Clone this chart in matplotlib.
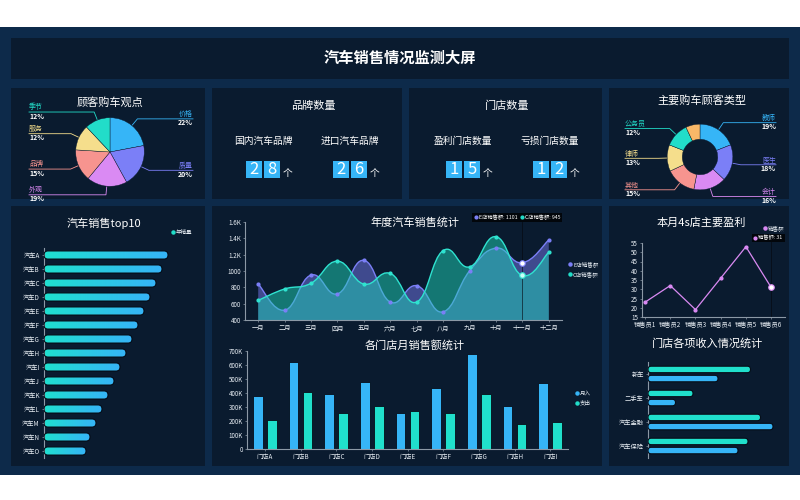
import numpy as np
import matplotlib
matplotlib.use("Agg")
import matplotlib.pyplot as plt
from matplotlib.patches import Rectangle, FancyBboxPatch, PathPatch
from matplotlib.path import Path
from matplotlib.colors import LinearSegmentedColormap

plt.rcParams['font.family'] = ['Noto Sans CJK SC', 'DejaVu Sans']

W, H = 800, 500

# ---- data ----
view_names = ['价格', '质量', '外观', '品牌', '服务', '季节']
view_pct = [22, 20, 19, 15, 12, 12]

buyer_names = ['教师', '医生', '会计', '其他', '律师', '公务员', '']
buyer_pct = [19, 18, 16, 15, 13, 12, 7]

brand_labels = ['国内汽车品牌', '进口汽车品牌']
brand_counts = [28, 26]
store_labels = ['盈利门店数量', '亏损门店数量']
store_counts = [15, 12]

top_cars = ['汽车A', '汽车B', '汽车C', '汽车D', '汽车E', '汽车F', '汽车G', '汽车H',
            '汽车I', '汽车J', '汽车K', '汽车L', '汽车M', '汽车N', '汽车O']
top_sales = [620, 590, 560, 530, 500, 470, 440, 410, 380, 350, 320, 290, 260, 230, 210]

months = ['一月', '二月', '三月', '四月', '五月', '六月', '七月', '八月',
          '九月', '十月', '十一月', '十二月']
e_sales = [840, 520, 950, 720, 1130, 620, 820, 500, 1000, 1280, 1101, 1380]
c_sales = [640, 780, 850, 1120, 840, 970, 620, 1250, 1050, 1420, 945, 1230]
line_ticks = [400, 600, 800, 1000, 1200, 1400, 1600]
line_tick_labels = ['400', '600', '800', '1000', '1.2K', '1.4K', '1.6K']

stores = ['门店A', '门店B', '门店C', '门店D', '门店E', '门店F', '门店G', '门店H', '门店I']
income = [380, 620, 390, 480, 255, 435, 680, 305, 475]   # K
spend = [210, 410, 260, 305, 275, 260, 395, 180, 195]    # K
bar_ticks = [0, 100, 200, 300, 400, 500, 600, 700]
bar_tick_labels = ['0', '100K', '200K', '300K', '400K', '500K', '600K', '700K']

sellers = ['销售员1', '销售员2', '销售员3', '销售员4', '销售员5', '销售员6']
profit = [23, 32, 19, 36, 53, 31]

rev_items = ['新车', '二手车', '汽车金融', '汽车保险']
rev_a = [820, 360, 900, 800]
rev_b = [560, 220, 1000, 720]

# ---- colours ----
OUTER = '#0d2a4a'
PANEL = '#0a1b2f'
BLUE = '#36b5f7'
TEAL = '#22ddc9'
PERI = '#7b7ff7'
VIOLET = '#da8af3'
PIE_COLORS = [BLUE, PERI, VIOLET, '#f7948f', '#f5de8c', TEAL]
DONUT_COLORS = [BLUE, PERI, VIOLET, '#f7948f', '#f5de8c', TEAL, '#f9b868']
AXIS = '#8c99a6'
TXT = '#e8eef4'

fig = plt.figure(figsize=(8, 5), dpi=100, facecolor='white')
bg = fig.add_axes([0, 0, 1, 1])
bg.set_xlim(0, W)
bg.set_ylim(H, 0)
bg.axis('off')


def panel(x0, y0, x1, y1, color=PANEL):
    bg.add_patch(Rectangle((x0, y0), x1 - x0, y1 - y0, color=color, lw=0))


def px_axes(x0, y0, x1, y1):
    ax = fig.add_axes([x0 / W, 1 - y1 / H, (x1 - x0) / W, (y1 - y0) / H])
    ax.patch.set_alpha(0)
    return ax


def style_axes(ax, left=True, bottom=True):
    for s in ax.spines.values():
        s.set_visible(False)
    if left:
        ax.spines['left'].set_visible(True)
        ax.spines['left'].set_color(AXIS)
        ax.spines['left'].set_linewidth(0.8)
    if bottom:
        ax.spines['bottom'].set_visible(True)
        ax.spines['bottom'].set_color(AXIS)
        ax.spines['bottom'].set_linewidth(0.8)
    ax.tick_params(colors=AXIS, labelcolor=TXT, labelsize=4.5, length=1.5,
                   width=0.5, pad=1.5)


def title(x, y, s, size=8):
    bg.text(x, y, s, color='white', fontsize=size, ha='center', va='center')


def legend_dot(x, y, color, label):
    bg.plot([x], [y], 'o', ms=2.2, color=color)
    bg.text(x + 3, y, label, color=TXT, fontsize=4, va='center', ha='left')


def round_bars(ax, ys, widths, h, px_w, px_h, cmap=None, color=None):
    x0, x1 = ax.get_xlim()
    y0, y1 = ax.get_ylim()
    ux = abs(x1 - x0) / px_w
    uy = abs(y1 - y0) / px_h
    r = (h / uy) / 2 * ux * 0.98
    for y, w in zip(ys, widths):
        p = FancyBboxPatch((0, y - h / 2), w, h,
                           boxstyle=f"round,pad=0,rounding_size={r}",
                           mutation_aspect=uy / ux,
                           facecolor=color if cmap is None else 'none',
                           edgecolor='#050d18', lw=0.8, zorder=3)
        ax.add_patch(p)
        if cmap is not None:
            im = ax.imshow(np.linspace(0, 1, 256).reshape(1, -1), cmap=cmap,
                           extent=(0, w, y - h / 2, y + h / 2), aspect='auto',
                           zorder=2)
            im.set_clip_path(p)
    ax.set_xlim(x0, x1)
    ax.set_ylim(y0, y1)


def smooth_path(xs, ys, base=None, k=0.22):
    pts = np.column_stack([xs, ys]).astype(float)
    n = len(pts)
    verts = [pts[0]]
    codes = [Path.MOVETO]
    for i in range(n - 1):
        p0 = pts[i - 1] if i > 0 else pts[i]
        p1, p2 = pts[i], pts[i + 1]
        p3 = pts[i + 2] if i + 2 < n else pts[i + 1]
        verts += [p1 + (p2 - p0) * k, p2 - (p3 - p1) * k, p2]
        codes += [Path.CURVE4] * 3
    if base is not None:
        verts += [(xs[-1], base), (xs[0], base), (xs[0], base)]
        codes += [Path.LINETO, Path.LINETO, Path.CLOSEPOLY]
    return Path(verts, codes)


def pie_callouts(cx, cy, r, names, pcts, colors, lx, rx):
    total = float(sum(pcts))
    start = 90.0
    for n, p, c in zip(names, pcts, colors):
        span = 360 * p / total
        mid = np.deg2rad(start - span / 2)
        start -= span
        if not n:
            continue
        ux, uy = np.cos(mid), -np.sin(mid)
        x1, y1 = cx + r * ux, cy + r * uy
        x2, y2 = cx + (r + 8) * ux, cy + (r + 8) * uy
        if ux >= 0:
            xe, ha = rx, 'right'
        else:
            xe, ha = lx, 'left'
        bg.plot([x1, x2, xe], [y1, y2, y2], color=c, lw=0.6)
        bg.text(xe, y2 - 0.6, n, color=c, fontsize=5, ha=ha, va='bottom')
        bg.text(xe, y2 + 0.6, f'{p}%', color='white', fontsize=5,
                fontweight='bold', ha=ha, va='top')


def digit_boxes(cx, y_top, value):
    s = str(value)
    x_left = cx - 17
    for j, ch in enumerate(s):
        bx = x_left + j * 18
        bg.add_patch(Rectangle((bx, y_top), 16, 17, color=BLUE, lw=0))
        bg.text(bx + 8, y_top + 9, ch, color='white', fontsize=12,
                ha='center', va='center')
    bg.text(x_left + len(s) * 18 + 1, y_top + 12, '个', color='white',
            fontsize=7, ha='left', va='center')


# ---- frame ----
bg.add_patch(Rectangle((0, 27), 800, 448, color=OUTER, lw=0))
panel(11, 38, 789, 79)
for x0, x1 in [(11, 205), (212, 402), (409, 602), (609, 789)]:
    panel(x0, 88, x1, 199)
for x0, x1 in [(11, 205), (212, 602), (609, 789)]:
    panel(x0, 206, x1, 466)

bg.text(400, 58, '汽车销售情况监测大屏', color='white', fontsize=11,
        fontweight='bold', ha='center', va='center')

# ---- pie: 顾客购车观点 ----
title(110, 102, '顾客购车观点')
pcx, pcy, pr = 110, 152, 35
ax = px_axes(pcx - pr, pcy - pr, pcx + pr, pcy + pr)
ax.pie(view_pct, colors=PIE_COLORS, startangle=90, counterclock=False,
       radius=1, wedgeprops=dict(edgecolor='#0a1b2f', linewidth=0.3))
ax.set_xlim(-1.02, 1.02)
ax.set_ylim(-1.02, 1.02)
pie_callouts(pcx, pcy, pr, view_names, view_pct, PIE_COLORS, 29, 193)

# ---- counts ----
title(313, 106, '品牌数量')
title(507, 106, '门店数量')
for cx, lab, val in zip([263, 350], brand_labels, brand_counts):
    bg.text(cx, 141, lab, color='white', fontsize=7, ha='center', va='center')
    digit_boxes(cx, 161, val)
for cx, lab, val in zip([463, 550], store_labels, store_counts):
    bg.text(cx, 141, lab, color='white', fontsize=7, ha='center', va='center')
    digit_boxes(cx, 161, val)

# ---- donut: 主要购车顾客类型 ----
title(702, 100, '主要购车顾客类型')
dcx, dcy, dr = 700, 157, 33.5
ax = px_axes(dcx - dr, dcy - dr, dcx + dr, dcy + dr)
ax.pie(buyer_pct, colors=DONUT_COLORS, startangle=90, counterclock=False,
       radius=1, wedgeprops=dict(width=0.46, edgecolor='#0a1b2f', linewidth=0.3))
ax.set_xlim(-1.02, 1.02)
ax.set_ylim(-1.02, 1.02)
pie_callouts(dcx, dcy, dr, buyer_names, buyer_pct, DONUT_COLORS, 625, 776)

# ---- top10 ----
title(104, 223, '汽车销售top10')
legend_dot(173, 232, TEAL, '年销量')
tx0, ty0, tx1, ty1 = 44, 248, 195, 458
ax = px_axes(tx0, ty0, tx1, ty1)
style_axes(ax, left=True, bottom=False)
ypos = np.arange(len(top_cars))
ax.set_xlim(0, 755)
ax.set_ylim(len(top_cars) - 0.5, -0.5)
ax.set_yticks(ypos)
ax.set_yticklabels(top_cars)
ax.set_xticks([])
tb_cmap = LinearSegmentedColormap.from_list('tb', ['#1fe0cf', '#36b4f7'])
round_bars(ax, ypos, top_sales, 0.58, tx1 - tx0, ty1 - ty0, cmap=tb_cmap)

# ---- annual line chart ----
title(415, 222, '年度汽车销售统计')
ax = px_axes(245, 222, 562, 320)
style_axes(ax)
xm = np.arange(len(months))
ax.set_xlim(-0.5, len(months) - 0.5)
ax.set_ylim(400, 1600)
ax.add_patch(PathPatch(smooth_path(xm, e_sales, base=400), facecolor=PERI,
                       alpha=0.48, lw=0, zorder=1))
ax.add_patch(PathPatch(smooth_path(xm, e_sales), facecolor='none',
                       edgecolor=PERI, lw=1, zorder=1.1))
ax.add_patch(PathPatch(smooth_path(xm, c_sales, base=400), facecolor='#1fd3b8',
                       alpha=0.5, lw=0, zorder=1.2))
ax.add_patch(PathPatch(smooth_path(xm, c_sales), facecolor='none',
                       edgecolor='#2fe3d0', lw=1, zorder=1.3))
ax.axvline(10, color='#05080e', lw=0.7, alpha=0.6, zorder=1.4)
ax.plot(xm, e_sales, 'o', ms=2, color=PERI, zorder=2)
ax.plot(xm, c_sales, 'o', ms=2, color='#2fe3d0', zorder=2)
ax.plot([10], [e_sales[10]], 'o', ms=4, mfc='white', mec=PERI, mew=0.8, zorder=3)
ax.plot([10], [c_sales[10]], 'o', ms=4, mfc='#c8fff8', mec='#2fe3d0', mew=0.8, zorder=3)
ax.set_xticks(xm)
ax.set_xticklabels(months)
ax.set_yticks(line_ticks)
ax.set_yticklabels(line_tick_labels)
legend_dot(570, 264, PERI, 'E店销售额')
legend_dot(570, 274, TEAL, 'C店销售额')
bg.add_patch(Rectangle((472, 213), 90, 8.5, color='#02060b', lw=0, zorder=5))
bg.plot([476], [217.2], 'o', ms=2, color=PERI, zorder=6)
bg.text(479, 217.2, f'E店销售额: {e_sales[10]}', color='white', fontsize=3.8,
        va='center', zorder=6)
bg.plot([522], [217.2], 'o', ms=2, color=TEAL, zorder=6)
bg.text(525, 217.2, f'C店销售额: {c_sales[10]}', color='white', fontsize=3.8,
        va='center', zorder=6)

# ---- store bar chart ----
title(415, 345, '各门店月销售额统计')
ax = px_axes(247, 351, 568, 449)
style_axes(ax)
xs = np.arange(len(stores))
ax.bar(xs - 0.2, income, 0.27, color=BLUE, edgecolor='#050d18', lw=0.6)
ax.bar(xs + 0.2, spend, 0.27, color='#20e0cc', edgecolor='#050d18', lw=0.6)
ax.set_xlim(-0.5, len(stores) - 0.5)
ax.set_ylim(0, 700)
ax.set_xticks(xs)
ax.set_xticklabels(stores)
ax.set_yticks(bar_ticks)
ax.set_yticklabels(bar_tick_labels)
legend_dot(577, 393, BLUE, '月入')
legend_dot(577, 403, TEAL, '支出')

# ---- 4s profit line ----
title(701, 222, '本月4s店主要盈利')
legend_dot(765, 228, VIOLET, '销售额')
ax = px_axes(642, 243, 785, 317)
style_axes(ax)
xp = np.arange(len(sellers))
ax.set_xlim(-0.12, 5.55)
ax.set_ylim(15, 55)
ax.axvline(5, color='#05080e', lw=0.7, alpha=0.6, ymin=0, ymax=1.1, clip_on=False)
ax.plot(xp, profit, '-o', color=VIOLET, lw=0.9, ms=2)
ax.plot([5], [profit[5]], 'o', ms=4, mfc='white', mec=VIOLET, mew=0.8)
ax.set_xticks(xp)
ax.set_xticklabels(sellers)
ax.set_yticks(range(15, 56, 5))
bg.add_patch(Rectangle((752, 234), 33, 7.5, color='#02060b', lw=0, zorder=5))
bg.plot([755], [237.7], 'o', ms=2, color=VIOLET, zorder=6)
bg.text(758, 237.7, f'销售额: {profit[5]}', color='white', fontsize=3.8,
        va='center', zorder=6)

# ---- revenue horizontal bars ----
title(708, 343, '门店各项收入情况统计')
rx0, ry0, rx1, ry1 = 648, 362, 785, 458
ax = px_axes(rx0, ry0, rx1, ry1)
style_axes(ax, left=True, bottom=False)
yr = np.arange(len(rev_items))
ax.set_xlim(0, 1096)
ax.set_ylim(len(rev_items) - 0.5, -0.5)
ax.set_yticks(yr)
ax.set_yticklabels(rev_items)
ax.set_xticks([])
round_bars(ax, yr - 0.19, rev_a, 0.27, rx1 - rx0, ry1 - ry0, color='#20e0cc')
round_bars(ax, yr + 0.19, rev_b, 0.27, rx1 - rx0, ry1 - ry0, color=BLUE)

fig.savefig('out.png', dpi=100, facecolor='white')
